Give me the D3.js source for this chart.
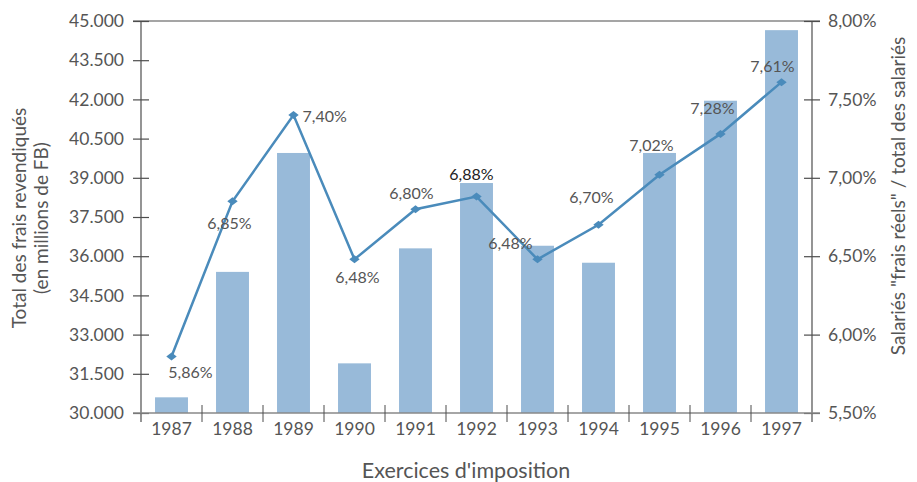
<!DOCTYPE html>
<html>
<head>
<meta charset="utf-8">
<script src="https://cdn.jsdelivr.net/npm/d3@7"></script>
<style>
  body { margin: 0; background: #fff; }
  svg { display: block; font-family: Lato, "Noto Sans", sans-serif; }
</style>
</head>
<body>
<svg id="chart" width="917" height="482"></svg>
<script>
// Chart data
var years = ["1987", "1988", "1989", "1990", "1991", "1992", "1993", "1994", "1995", "1996", "1997"];
var totalFrais = [30600, 35400, 39950, 31900, 36300, 38800, 36400, 35750, 39950, 41950, 44650];
var ratioPct = [5.86, 6.85, 7.40, 6.48, 6.80, 6.88, 6.48, 6.70, 7.02, 7.28, 7.61];
var leftTicks = [30000, 31500, 33000, 34500, 36000, 37500, 39000, 40500, 42000, 43500, 45000];
var rightTicks = [5.5, 6.0, 6.5, 7.0, 7.5, 8.0];

// Label offsets from each marker (text centre), in px
var labelOffsets = [[19, 15], [-3, 21], [9, 0], [3, 17], [-4, -17], [-5, -23],
                    [-27, -17], [-7, -28], [-8, -30], [-8, -26], [-9, -17]];

const margin = {top: 21, left: 141, right: 105, bottom: 69};
const width = 917 - margin.left - margin.right;
const height = 482 - margin.top - margin.bottom;

// French number formats: 45.000 and 7,40%
var fr = d3.formatLocale({decimal: ",", thousands: ".", grouping: [3], currency: ["", " €"]});
var fmtThousands = fr.format(",.0f");
var fmtPct = function(d) { return fr.format(".2f")(d) + "%"; };

var svg = d3.select("#chart")
    .append("g")
    .attr("transform", `translate(${margin.left}, ${margin.top})`);

var x = d3.scaleBand()
    .domain(years)
    .range([0, width])
    .paddingInner(0.46)
    .paddingOuter(0.23);

var yLeft = d3.scaleLinear().domain([30000, 45000]).range([height, 0]);
var yRight = d3.scaleLinear().domain([5.5, 8.0]).range([height, 0]);

var textColor = "#555";
var axisColor = "#4d4d4d";

// Bars
svg.selectAll(".bar")
    .data(years)
    .join("rect")
    .attr("class", "bar")
    .attr("x", function(d) { return x(d); })
    .attr("width", x.bandwidth())
    .attr("y", function(d, i) { return yLeft(totalFrais[i]); })
    .attr("height", function(d, i) { return height - yLeft(totalFrais[i]); })
    .attr("fill", "#98bad9");

// Top frame line
svg.append("line")
    .attr("x1", -8).attr("x2", width + 8)
    .attr("y1", 0).attr("y2", 0)
    .attr("stroke", axisColor).attr("stroke-width", 1.2);

// Left axis, ticks crossing the line
var gLeft = svg.append("g")
    .call(d3.axisLeft(yLeft).tickValues(leftTicks).tickFormat(fmtThousands).tickSize(8).tickPadding(9));
gLeft.selectAll(".tick line").attr("x2", 8).attr("x1", -8);
gLeft.select(".domain").attr("d", `M0,0V${height + 9}`);

// Right axis
var gRight = svg.append("g")
    .attr("transform", `translate(${width}, 0)`)
    .call(d3.axisRight(yRight).tickValues(rightTicks).tickFormat(fmtPct).tickSize(8).tickPadding(8));
gRight.selectAll(".tick line").attr("x1", -8).attr("x2", 8);
gRight.select(".domain").attr("d", `M0,0V${height + 9}`);

// Bottom axis: ticks on the band boundaries
var gBottom = svg.append("g")
    .attr("transform", `translate(0, ${height})`)
    .call(d3.axisBottom(x).tickSize(0).tickPadding(10));
gBottom.select(".domain").remove();
gBottom.append("line")
    .attr("x1", -8).attr("x2", width + 8)
    .attr("stroke", "#888").attr("stroke-width", 1.5);
gBottom.selectAll(".sep")
    .data(years.slice(1))
    .join("line")
    .attr("class", "sep")
    .attr("x1", function(d) { return x(d) - x.step() * x.paddingInner() / 2; })
    .attr("x2", function(d) { return x(d) - x.step() * x.paddingInner() / 2; })
    .attr("y1", -8).attr("y2", 9)
    .attr("stroke", axisColor);

[gLeft, gRight, gBottom].forEach(function(g) {
    g.selectAll(".domain, .tick line").attr("stroke", axisColor).attr("stroke-width", 1.2);
    g.selectAll("text")
        .attr("fill", textColor)
        .style("font-family", "Lato, 'Noto Sans', sans-serif")
        .style("font-size", "17.5px");
});

// Line series
var cx = function(i) { return x(years[i]) + x.bandwidth() / 2; };
var line = d3.line()
    .x(function(d, i) { return cx(i); })
    .y(function(d) { return yRight(d); });

svg.append("path")
    .datum(ratioPct)
    .attr("d", line)
    .attr("fill", "none")
    .attr("stroke", "#4a8bbb")
    .attr("stroke-width", 2.5);

svg.selectAll(".marker")
    .data(ratioPct)
    .join("path")
    .attr("class", "marker")
    .attr("d", "M0,-4L5.2,0L0,4L-5.2,0Z")
    .attr("transform", function(d, i) { return `translate(${cx(i)}, ${yRight(d)})`; })
    .attr("fill", "#4a8bbb");

// Value labels
svg.selectAll(".val")
    .data(ratioPct)
    .join("text")
    .attr("class", "val")
    .attr("x", function(d, i) { return cx(i) + labelOffsets[i][0]; })
    .attr("y", function(d, i) { return yRight(d) + labelOffsets[i][1]; })
    .attr("text-anchor", function(d, i) { return i == 2 ? "start" : "middle"; })
    .attr("dominant-baseline", "central")
    .attr("fill", function(d, i) { return i == 5 ? "#222" : textColor; })
    .style("font-size", "16px")
    .text(fmtPct);

// Axis titles
var root = d3.select("#chart");
var leftTitle = root.append("text")
    .attr("transform", "translate(32, 218) rotate(-90)")
    .attr("text-anchor", "middle")
    .attr("fill", textColor)
    .style("font-size", "19px");
leftTitle.append("tspan").attr("x", 0).attr("dy", "-0.3em").text("Total des frais revendiqués");
leftTitle.append("tspan").attr("x", 0).attr("dy", "1.15em").text("(en millions de FB)");

root.append("text")
    .attr("transform", "translate(905, 196) rotate(-90)")
    .attr("text-anchor", "middle")
    .attr("fill", textColor)
    .style("font-size", "19px")
    .text("Salariés \"frais réels\" / total des salariés");

root.append("text")
    .attr("x", 466)
    .attr("y", 478)
    .attr("text-anchor", "middle")
    .attr("fill", textColor)
    .style("font-size", "21.5px")
    .text("Exercices d'imposition");
</script>
</body>
</html>
